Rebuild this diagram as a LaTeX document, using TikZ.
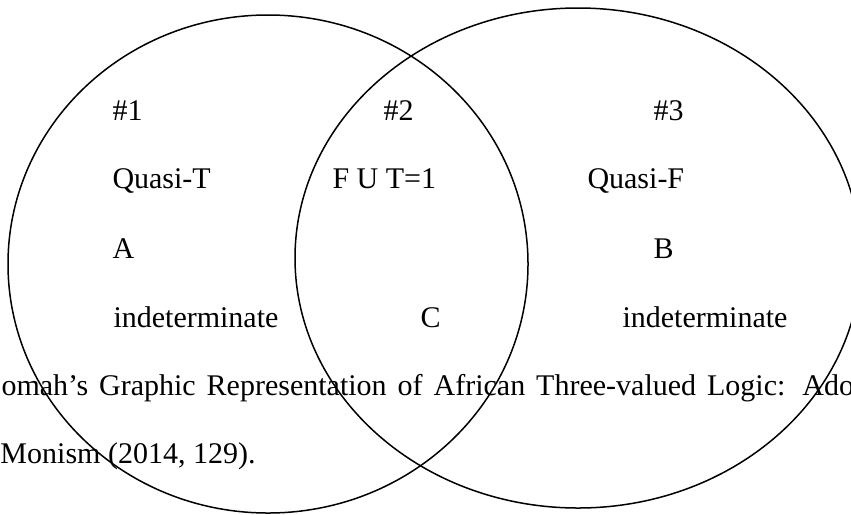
\documentclass[tikz,border=0pt]{standalone}
\usepackage{fontspec}
\setmainfont{Liberation Serif}
\usepackage{tikz}
\usetikzlibrary{positioning}

\begin{document}
\begin{tikzpicture}[x=0.4pt,y=-0.4pt,
    lbl/.style={anchor=base west,inner sep=0pt,font=\fontsize{12}{14}\selectfont}]
    \useasboundingbox (0,0) rectangle (851,514);
    \clip (0,0) rectangle (851,514);
    \draw[line width=0.6pt] (268,264) ellipse [x radius=260,y radius=249];
    \draw[line width=0.6pt] (578,258) ellipse [x radius=283,y radius=250];
    % left set
    \node[lbl] (n1) at (112,120) {\#1};
    \node[lbl] (qt) at (112,188) {Quasi-T};
    \node[lbl] (a) at (112,258) {A};
    \node[lbl] (ia) at (113,327) {indeterminate};
    % overlap
    \node[lbl] (n2) at (383,120) {\#2};
    \node[lbl] (fut) at (332,188) {F U T=1};
    \node[lbl] (c) at (420,327) {C};
    % right set
    \node[lbl] (n3) at (653,120) {\#3};
    \node[lbl] (qf) at (587,188) {Quasi-F};
    \node[lbl] (b) at (653,258) {B};
    \node[lbl] (ib) at (622,327) {indeterminate};
    % caption text behind the picture
    \node[lbl] (cap1) at (1,395) {\makebox[341pt][s]{omah’s Graphic Representation of African Three-valued Logic: Ado}};
    \node[lbl] (cap2) at (0,463) {Monism (2014, 129).};
  \end{tikzpicture}
\end{document}
